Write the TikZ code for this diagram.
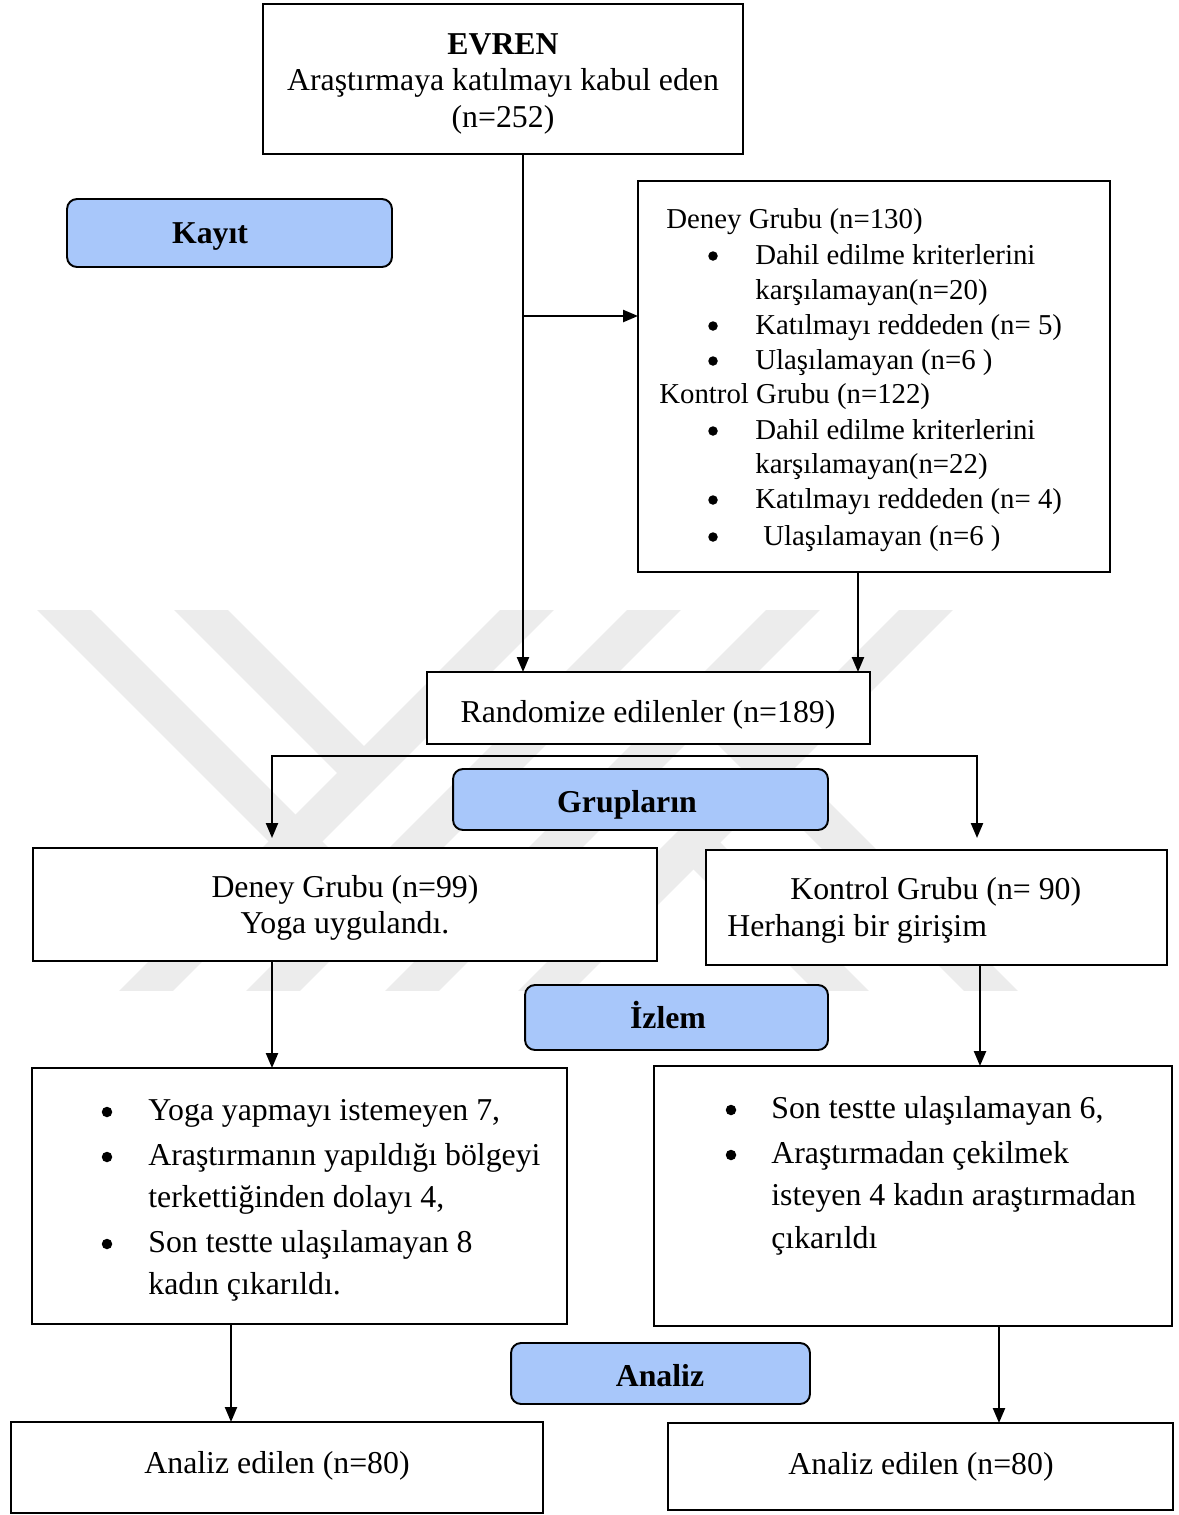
\documentclass[tikz,border=0pt]{standalone}
\usepackage{fontspec}
\setmainfont{Liberation Serif}
\usetikzlibrary{arrows.meta,calc}
\definecolor{bluebox}{RGB}{168,199,250}
\definecolor{wmark}{RGB}{236,236,236}
\newcommand{\fsmain}{\fontsize{18.1pt}{21pt}\selectfont}
\newcommand{\fssmall}{\fontsize{16.4pt}{19.8pt}\selectfont}
\begin{document}
\begin{tikzpicture}[x=0.02cm,y=-0.02cm,
  box/.style={draw=black, line width=1.1pt, fill=white, inner sep=0pt, outer sep=0pt},
  phase/.style={draw=black, line width=1.1pt, fill=bluebox, rounded corners=0.2cm, inner sep=0pt, outer sep=0pt},
  txt/.style={font=\fsmain, inner sep=0pt, yshift=-0.12cm},
  btxt/.style={font=\fsmain\bfseries, inner sep=0pt, yshift=-0.12cm},
  stxt/.style={font=\fssmall, inner sep=0pt, yshift=-0.12cm},
  sdot/.style={circle, fill=black, inner sep=0pt, minimum size=0.19cm},
  ldot/.style={circle, fill=black, inner sep=0pt, minimum size=0.21cm},
  arr/.style={line width=1.3pt, -{Triangle[length=0.3cm,width=0.24cm]}},
  band/.style={line width=0.76cm, draw=wmark, line cap=butt},
]
\useasboundingbox (0,0) rectangle (1179,1515);
\fill[white] (0,0) rectangle (1179,1515);

% watermark
\begin{scope}
\clip (0,610) rectangle (1179,990);
\foreach \t in {527,654,793,926} \draw[band] (\t+20,590) -- (\t-400,1010);
\draw[band] (181,590) -- (364,773);
\draw[band] (44,590) -- (359,905);
\draw[band] (693.5,842.5) -- (861,1010);
\draw[band] (701.5,701.5) -- (1010,1010);
\end{scope}

% boxes
\node[box, minimum width=9.6cm, minimum height=3.0cm] (evren) at (503,79) {};
\node[phase, minimum width=6.5cm, minimum height=1.36cm] (kayit) at (229.5,233) {};
\node[box, minimum width=9.44cm, minimum height=7.82cm] (excl) at (874,376.5) {};
\node[box, minimum width=8.86cm, minimum height=1.44cm] (rand) at (648.5,708) {};
\node[phase, minimum width=7.5cm, minimum height=1.22cm] (grup) at (640.5,799.5) {};
\node[box, minimum width=12.48cm, minimum height=2.26cm] (deney) at (345,904.5) {};
\node[box, minimum width=9.22cm, minimum height=2.3cm] (kontrol) at (936.5,907.5) {};
\node[phase, minimum width=6.06cm, minimum height=1.3cm] (izlem) at (676.5,1017.5) {};
\node[box, minimum width=10.7cm, minimum height=5.12cm] (listL) at (299.5,1196) {};
\node[box, minimum width=10.36cm, minimum height=5.2cm] (listR) at (913,1196) {};
\node[phase, minimum width=5.98cm, minimum height=1.22cm] (analiz) at (660.5,1373.5) {};
\node[box, minimum width=10.64cm, minimum height=1.82cm] (anL) at (277,1467.5) {};
\node[box, minimum width=10.1cm, minimum height=1.74cm] (anR) at (920.5,1466.5) {};

% single-line labels
\node[btxt, anchor=mid] (kayitT) at (210,233) {Kayıt};
\node[txt, anchor=mid] (randT) at (648,712) {Randomize edilenler (n=189)};
\node[btxt, anchor=mid] (grupT) at (627,802) {Grupların};
\node[btxt, anchor=mid] (izlemT) at (668,1018) {İzlem};
\node[btxt, anchor=mid] (analizT) at (660,1376) {Analiz};
\node[txt, anchor=mid] (anLT) at (277,1463) {Analiz edilen (n=80)};
\node[txt, anchor=mid] (anRT) at (921,1464) {Analiz edilen (n=80)};

% EVREN text
\node[btxt, anchor=mid] (ev1) at (503,44) {EVREN};
\node[txt, anchor=mid] (ev2) at (503,80) {Araştırmaya katılmayı kabul eden};
\node[txt, anchor=mid] (ev3) at (503,117) {(n=252)};

% exclusion text
\node[stxt, anchor=mid west] (x1) at (666,218) {Deney Grubu (n=130)};
\node[sdot] (xb1) at (713,256) {};
\node[stxt, anchor=mid west] (x2) at (755,254) {Dahil edilme kriterlerini};
\node[stxt, anchor=mid west] (x3) at (755,289) {karşılamayan(n=20)};
\node[sdot] (xb2) at (713,326) {};
\node[stxt, anchor=mid west] (x4) at (755,324) {Katılmayı reddeden (n= 5)};
\node[sdot] (xb3) at (713,361) {};
\node[stxt, anchor=mid west] (x5) at (755,359) {Ulaşılamayan (n=6 )};
\node[stxt, anchor=mid west] (x6) at (659,393) {Kontrol Grubu (n=122)};
\node[sdot] (xb4) at (713,431) {};
\node[stxt, anchor=mid west] (x7) at (755,429) {Dahil edilme kriterlerini};
\node[stxt, anchor=mid west] (x8) at (755,463) {karşılamayan(n=22)};
\node[sdot] (xb5) at (713,500) {};
\node[stxt, anchor=mid west] (x9) at (755,498) {Katılmayı reddeden (n= 4)};
\node[sdot] (xb6) at (713,537) {};
\node[stxt, anchor=mid west] (x10) at (763,535) {Ulaşılamayan (n=6 )};

% group texts
\node[txt, anchor=mid] (d1) at (345,887) {Deney Grubu (n=99)};
\node[txt, anchor=mid] (d2) at (345,923) {Yoga uygulandı.};
\node[txt, anchor=mid west] (k1) at (790,889) {Kontrol Grubu (n= 90)};
\node[txt, anchor=mid west] (k2) at (727,926) {Herhangi bir girişim};

% left list
\node[ldot] (lb1) at (107,1112) {};
\node[txt, anchor=mid west] (l1) at (148,1110) {Yoga yapmayı istemeyen 7,};
\node[ldot] (lb2) at (107,1157) {};
\node[txt, anchor=mid west] (l2) at (148,1155) {Araştırmanın yapıldığı bölgeyi};
\node[txt, anchor=mid west] (l3) at (148,1197) {terkettiğinden dolayı 4,};
\node[ldot] (lb3) at (107,1244) {};
\node[txt, anchor=mid west] (l4) at (148,1242) {Son testte ulaşılamayan 8};
\node[txt, anchor=mid west] (l5) at (148,1284) {kadın çıkarıldı.};

% right list
\node[ldot] (rb1) at (731,1110) {};
\node[txt, anchor=mid west] (r1) at (771,1108) {Son testte ulaşılamayan 6,};
\node[ldot] (rb2) at (731,1155) {};
\node[txt, anchor=mid west] (r2) at (771,1153) {Araştırmadan çekilmek};
\node[txt, anchor=mid west] (r3) at (771,1195) {isteyen 4 kadın araştırmadan};
\node[txt, anchor=mid west] (r4) at (771,1238) {çıkarıldı};

% connectors
\coordinate (c1) at (523,316);
\coordinate (c2) at (858,600);
\coordinate (sl) at (272,756);
\coordinate (sr) at (977,756);
\coordinate (c3) at (980,1000);
\coordinate (c4) at (231,1370);
\coordinate (c5) at (999,1370);
\draw[arr] (evren.south -| c1) -- (rand.north -| c1);
\draw[arr] (c1) -- (c1 -| excl.west);
\draw[arr] (excl.south -| c2) -- (rand.north -| c2);
\draw[line width=1.3pt, {Triangle[length=0.3cm,width=0.24cm]}-{Triangle[length=0.3cm,width=0.24cm]}, shorten <=0.2cm, shorten >=0.24cm]
  (sl |- deney.north) -- (sl) -- (sr) -- (sr |- kontrol.north);
\draw[arr] (deney.south -| sl) -- (listL.north -| sl);
\draw[arr] (kontrol.south -| c3) -- (listR.north -| c3);
\draw[arr] (listL.south -| c4) -- (anL.north -| c4);
\draw[arr] (listR.south -| c5) -- (anR.north -| c5);
\end{tikzpicture}
\end{document}
